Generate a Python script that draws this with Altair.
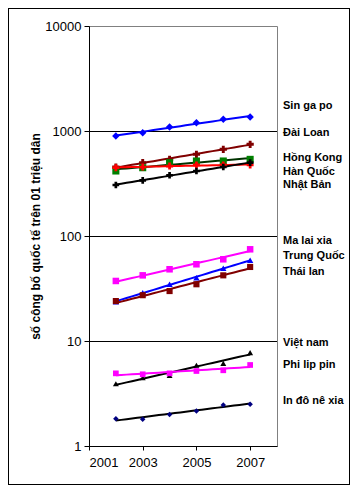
import altair as alt
import pandas as pd

years = [2002, 2003, 2004, 2005, 2006, 2007]

countries = ["Singapore", "Taiwan", "HongKong", "Korea", "Japan",
             "Malaysia", "China", "Thailand", "Vietnam", "Philippines", "Indonesia"]

singapore = [896, 964, 1092, 1200, 1292, 1360]
taiwan = [454, 499, 537, 600, 670, 747]
hongkong = [416, 447, 499, 518, 518, 537]
korea = [447, 454, 464, 475, 475, 475]
japan = [306, 339, 379, 416, 454, 499]
malaysia = [37.3, 42.2, 48.2, 53.8, 60.0, 74.7]
china = [23.7, 28.8, 34.7, 40.1, 49.2, 58.7]
thailand = [24.0, 27.3, 29.9, 34.7, 42.2, 50.7]
vietnam = [3.92, 4.47, 4.71, 5.87, 6.13, 7.74]
philippines = [4.92, 4.82, 4.92, 5.18, 5.26, 5.91]
indonesia = [1.82, 1.80, 2.00, 2.15, 2.46, 2.50]

series = [singapore, taiwan, hongkong, korea, japan, malaysia,
          china, thailand, vietnam, philippines, indonesia]

marker_colors = ["#0000FF", "#800000", "#008000", "#FF0000", "#000000",
                 "#FF00FF", "#0000FF", "#800000", "#000000", "#FF00FF", "#000080"]
trend_colors = ["#0000FF", "#800000", "#003300", "#FF0000", "#000000",
                "#FF00FF", "#0000FF", "#800000", "#000000", "#FF00FF", "#000000"]
marker_shapes = ["diamond", "cross", "square", "cross", "cross",
                 "square", "triangle-up", "square", "triangle-up", "square", "diamond"]
marker_sizes = [55, 30, 40, 30, 28, 30, 50, 65, 55, 45, 45]

label_names = ["Sin ga po", "Đài Loan", "Hồng Kong", "Hàn Quốc", "Nhật Bản",
               "Ma lai xia", "Trung Quốc", "Thái lan", "Việt nam", "Phi lip pin",
               "In đô nê xia"]
label_y = [1730, 957, 553, 411, 306, 89.6, 64.5, 45.4, 9.57, 5.91, 2.68]

grid_values = [10, 100, 1000]
x_ticks = [2001, 2003, 2005, 2007]
y_ticks = [1, 10, 100, 1000, 10000]

rows = []
for c, vals in zip(countries, series):
    for yr, v in zip(years, vals):
        rows.append({"country": c, "year": yr, "value": v})
df = pd.DataFrame(rows)
labels_df = pd.DataFrame({"name": label_names, "ly": label_y})
grid_df = pd.DataFrame({"g": grid_values})

xscale = alt.Scale(domain=[2001, 2008], nice=False, zero=False)
yscale = alt.Scale(type="log", domain=[1, 10000], nice=False)

xaxis = alt.Axis(values=x_ticks, format="d", title=None, grid=False,
                 tickSize=4, labelPadding=6, labelFontSize=13,
                 domainColor="black", tickColor="black", labelColor="black")
yaxis = alt.Axis(values=y_ticks, format="d", grid=False,
                 title="số công bố quốc tế trên 01 triệu dân",
                 titleFontSize=12, titleFontWeight="bold",
                 titleX=-54, titleY=210, titleBaseline="middle", titleAlign="center",
                 tickSize=5, labelPadding=3, labelFontSize=13,
                 domainColor="black", tickColor="black", labelColor="black",
                 titleColor="black")

base = alt.Chart(df)

grid = alt.Chart(grid_df).mark_rule(color="black", strokeWidth=1, yOffset=0.5).encode(
    y=alt.Y("g:Q", scale=yscale, axis=yaxis)
)

trend = base.transform_regression(
    "year", "value", method="exp", groupby=["country"]
).mark_line(strokeWidth=2).encode(
    x=alt.X("year:Q", scale=xscale, axis=xaxis),
    y=alt.Y("value:Q", scale=yscale, axis=yaxis),
    stroke=alt.Stroke("country:N", scale=alt.Scale(domain=countries, range=trend_colors), legend=None),
    detail="country:N",
)

points = base.mark_point(filled=True, opacity=1).encode(
    x=alt.X("year:Q", scale=xscale, axis=xaxis),
    y=alt.Y("value:Q", scale=yscale, axis=yaxis),
    color=alt.Color("country:N", scale=alt.Scale(domain=countries, range=marker_colors), legend=None),
    shape=alt.Shape("country:N", scale=alt.Scale(domain=countries, range=marker_shapes), legend=None),
    size=alt.Size("country:N", scale=alt.Scale(domain=countries, range=marker_sizes), legend=None),
)

labels = alt.Chart(labels_df).mark_text(
    align="left", baseline="middle", dx=6, fontSize=11, fontWeight="bold", color="black"
).encode(
    x=alt.datum(2008, scale=xscale),
    y=alt.Y("ly:Q", scale=yscale),
    text="name:N",
)

border = alt.Chart(grid_df).mark_rect(fillOpacity=0, stroke="black", strokeWidth=1).encode(
    x=alt.value(-80.5), x2=alt.value(260.5), y=alt.value(-17.5), y2=alt.value(458.5)
)

chart = alt.layer(grid, trend, points, labels, border).properties(
    width=188, height=420,
    autosize=alt.AutoSizeParams(type="none"),
    padding={"left": 81, "top": 18, "right": 73, "bottom": 39},
).configure(font="Liberation Sans").configure_view(
    stroke="#808080", strokeWidth=1
)

chart.save("out.html", embed_options={"renderer": "svg", "actions": False})
